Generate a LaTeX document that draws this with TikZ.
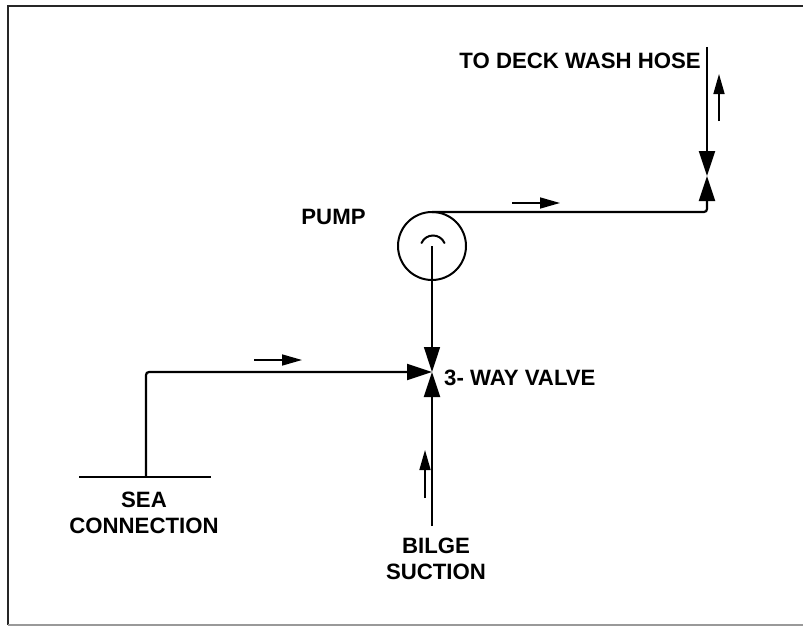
\documentclass[tikz,border=0pt]{standalone}
\usepackage{fontspec}
\setmainfont{Liberation Sans}
\usetikzlibrary{positioning,arrows.meta}

\tikzset{
  pipe/.style={line width=2.2pt, rounded corners=3pt},
  valvetip/.style={-{Triangle[length=25pt,width=16pt]}},
  flow/.style={line width=1.6pt, -{Triangle[length=20pt,width=11pt]}},
  lbl/.style={font=\fontsize{22.2}{26.5}\selectfont\bfseries, inner sep=0pt, align=center},
}

\begin{document}
\begin{tikzpicture}[x=1pt,y=-1pt]
\useasboundingbox (0,0) rectangle (803,626);
\draw[line width=2.2pt, black!85] (8,625) -- (8,6) -- (803,6);
\draw[line width=1.5pt, black!40] (8,625) -- (803,625);

\node (pump) [draw, circle, line width=2pt, outer sep=0pt, minimum size=68pt, inner sep=0pt] at (432,246) {};
\coordinate (mainvalve) at (432,372);
\coordinate (deckvalve) at (707,176);
\coordinate (seatop) at (146,477);
\coordinate (bilgeend) at (432,526);
\coordinate (hoseend) at (707,47);
\coordinate (seaL) at (79,477);
\coordinate (seaR) at (211,477);

\draw[line width=2pt] (seaL) -- (seaR);
\draw[pipe, valvetip] (seatop) |- (mainvalve);
\draw[pipe, valvetip] (bilgeend) -- (mainvalve);
\draw[line width=1.6pt, valvetip] (pump.center) -- (mainvalve);
\draw[pipe, valvetip] (hoseend) -- (deckvalve);
\draw[pipe, valvetip] (pump.north) -| (deckvalve);
\draw[line width=2pt, line cap=round] (421.5,243) .. controls (426,233) and (440,233) .. (444.5,243);

\coordinate (flowAs) at (254,360);
\coordinate (flowAe) at (302,360);
\coordinate (flowBs) at (512,203);
\coordinate (flowBe) at (560,203);
\coordinate (flowCs) at (719,121);
\coordinate (flowCe) at (719,74);
\coordinate (flowDs) at (425,498);
\coordinate (flowDe) at (425,450);
\draw[flow] (flowAs) -- (flowAe);
\draw[flow] (flowBs) -- (flowBe);
\draw[flow] (flowCs) -- (flowCe);
\draw[flow] (flowDs) -- (flowDe);

\node (hose) [lbl, anchor=east] at (701,61) {TO DECK WASH HOSE};
\node (pumplbl) [lbl] at (333.5,217) {PUMP};
\node (valvelbl) [lbl, anchor=west] at (444,378) {3- WAY VALVE};
\node (sea) [lbl] at (144,513) {SEA\\CONNECTION};
\node (bilge) [lbl] at (436,559) {BILGE\\SUCTION};
\end{tikzpicture}
\end{document}
